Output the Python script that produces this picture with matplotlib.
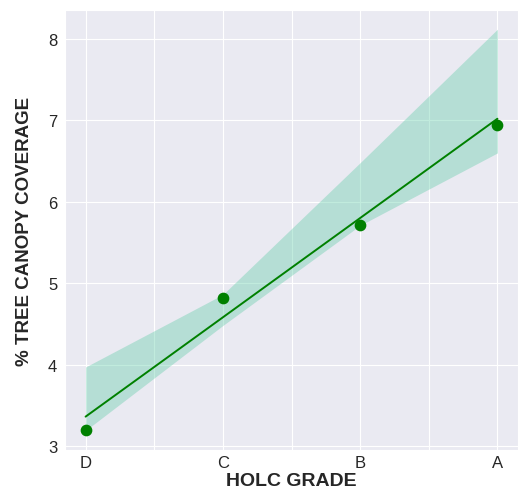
import numpy as np
import matplotlib.pyplot as plt
import seaborn as sns

sns.set_style("darkgrid")
plt.rcParams['font.family'] = ['Liberation Sans', 'DejaVu Sans']

# data
grades = ["D", "C", "B", "A"]
grade_pos = [0, 1, 2, 3]
canopy = [3.20, 4.82, 5.72, 6.94]

# fitted line and confidence band at each grade
fit_line = [3.36, 4.58, 5.80, 7.02]
band_low = [3.19, 4.48, 5.71, 6.60]
band_high = [3.97, 4.86, 6.48, 8.12]

fig = plt.figure(figsize=(5.21, 4.89), dpi=100)
fig.subplots_adjust(left=65/521, right=518/521, top=1 - 11/489, bottom=1 - 451/489)
ax = fig.add_subplot(111)

ax.fill_between(grade_pos, band_low, band_high, color="mediumaquamarine", alpha=0.4,
                linewidth=0, zorder=1)
ax.plot(grade_pos, fit_line, color="green", linewidth=1.4, zorder=2)
ax.scatter(grade_pos, canopy, color="green", s=55, zorder=3)

ax.set_xlim(-0.15, 3.15)
ax.set_ylim(2.95, 8.356)
ax.set_xticks(np.arange(0, 3.01, 0.5))
ax.set_xticklabels(["D", "", "C", "", "B", "", "A"])
ax.set_yticks([3, 4, 5, 6, 7, 8])
ax.tick_params(axis="both", labelsize=12, pad=2)
ax.tick_params(axis="x", pad=0)

ax.set_xlabel("HOLC GRADE", fontsize=14, fontweight="bold")
ax.set_ylabel("% TREE CANOPY COVERAGE", fontsize=13.5, fontweight="bold")
ax.xaxis.set_label_coords(0.5, -0.05)
ax.yaxis.set_label_coords(-0.07, 0.5)

fig.savefig("out.png", dpi=100)
